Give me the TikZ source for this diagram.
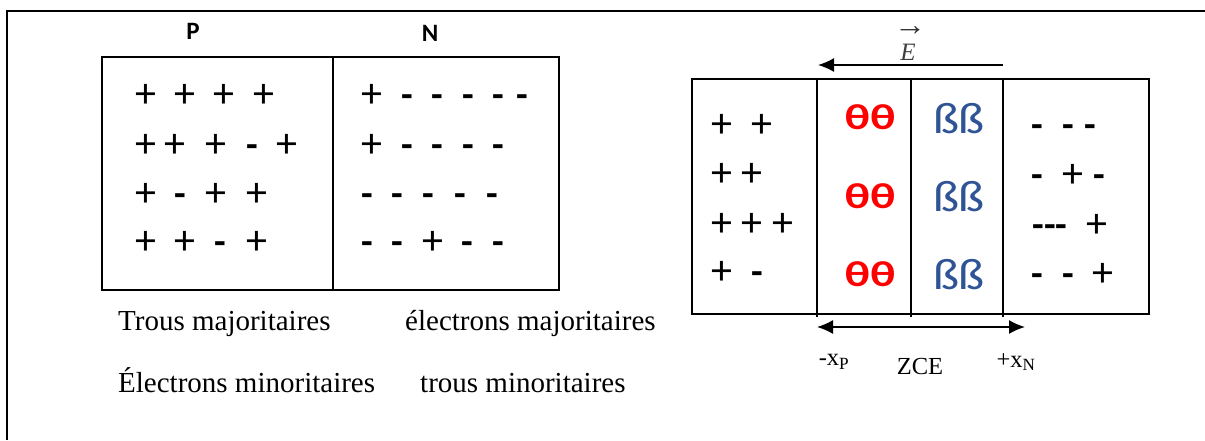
\documentclass[tikz,border=0pt]{standalone}
\usepackage{fontspec}
\usepackage{graphicx}
\setmainfont{Liberation Serif}
\newfontfamily\calfont{Carlito}
\usetikzlibrary{arrows.meta}
\definecolor{bblue}{HTML}{2F5496}
\newcommand\symrow[3]{\foreach \x/\s [count=\i] in {#3} {\node (#1-\i) at (\x,#2) [\s];}}
\begin{document}
\begin{tikzpicture}[x=1pt,y=-1pt,
  pls/.style={font=\calfont\fontsize{42}{42}\selectfont, inner sep=0, anchor=base, node contents={+}},
  mns/.style={font=\calfont\bfseries\fontsize{38}{38}\selectfont, inner sep=0, anchor=base, node contents={-}},
  mns3/.style={font=\calfont\bfseries\fontsize{38}{38}\selectfont, inner sep=0, anchor=base, node contents={{-}{-}{-}}},
  lbl/.style={font=\calfont\bfseries\fontsize{25}{25}\selectfont, inner sep=0},
  theta/.style={font=\calfont\bfseries\fontsize{36}{36}\selectfont, text=red, inner sep=0},
  beta/.style={font=\calfont\fontsize{44}{44}\selectfont, text=bblue, inner sep=0},
  captxt/.style={font=\fontsize{29}{29}\selectfont, inner sep=0, anchor=base west},
  small/.style={font=\fontsize{24.5}{24.5}\selectfont, inner sep=0},
  arr/.style={line width=1.6, -{Latex[length=16,width=14]}},
  darr/.style={line width=1.6, {Latex[length=16,width=14]}-{Latex[length=16,width=14]}}
]
\useasboundingbox (0,0) rectangle (1205,440);
% outer frame
\draw[line width=2] (7,440) -- (7,11) -- (1205,11);
% left box
\draw[line width=2.2] (102,57) rectangle (559,290);
\draw[line width=1.2] (333,57) -- (333,290);
\node[lbl] (P) at (193,31) {P};
\node[lbl] (N) at (430,33) {N};
% P side
\symrow{pa}{107}{146/pls,185/pls,224/pls,264/pls}
\symrow{pb}{157}{146/pls,175/pls,216/pls,252/mns,287/pls}
\symrow{pc}{206}{146/pls,180/mns,216/pls,257/pls}
\symrow{pd}{254}{146/pls,185/pls,220/mns,257/pls}
% N side
\symrow{na}{107}{372/pls,407/mns,437/mns,468/mns,498/mns,522/mns}
\symrow{nb}{157}{372/pls,407/mns,437/mns,468/mns,498/mns}
\symrow{nc}{206}{367/mns,397/mns,428/mns,460/mns,492/mns}
\symrow{nd}{254}{367/mns,397/mns,433/pls,467/mns,498/mns}
% captions
\node[captxt] (t1) at (118,330) {Trous majoritaires};
\node[captxt] (t2) at (405,330) {électrons majoritaires};
\node[captxt] (t3) at (118,392) {Électrons minoritaires};
\node[captxt] (t4) at (420,392) {trous minoritaires};
% right box
\draw[line width=1.6] (692,79) rectangle (1149,314);
\draw[line width=1.2] (817,79) -- (817,317);
\draw[line width=1.2] (911,79) -- (911,317);
\draw[line width=1.2] (1003,79) -- (1003,317);
\symrow{ra}{137}{722/pls,762/pls}
\symrow{rb}{186}{722/pls,752/pls}
\symrow{rc}{236}{722/pls,752/pls,783/pls}
\symrow{rd}{284}{722/pls,757/mns}
\symrow{sa}{137}{1037/mns,1068/mns,1090/mns}
\symrow{sb}{187}{1037/mns,1073/pls,1099/mns}
\symrow{sc}{237}{1050/mns3,1097/pls}
\symrow{sd}{286}{1037/mns,1068/mns,1103/pls}
\node[theta] (th1) at (870,117) {\scalebox{1.3}[1]{θθ}};
\node[theta] (th2) at (870,196) {\scalebox{1.3}[1]{θθ}};
\node[theta] (th3) at (870,274) {\scalebox{1.3}[1]{θθ}};
\node[beta] (b1) at (959,119) {\scalebox{1.12}[1]{ßß}};
\node[beta] (b2) at (959,197) {\scalebox{1.12}[1]{ßß}};
\node[beta] (b3) at (959,275) {\scalebox{1.12}[1]{ßß}};
% field
\coordinate (Es) at (1003,65);
\coordinate (Ee) at (818,65);
\draw[arr] (Es) -- (Ee);
\node[font=\fontsize{32}{32}\selectfont, inner sep=0, text=black!80] (Earr) at (910,31) {→};
\node[font=\fontsize{25}{25}\selectfont\itshape, inner sep=0, text=black!75] (E) at (908,52) {E};
% ZCE
\coordinate (Za) at (817,327);
\coordinate (Zb) at (1025,327);
\draw[darr] (Za) -- (Zb);
\node[small] (xp) at (834,362) {-x\textsubscript{P}};
\node[small] (zce) at (920,367) {ZCE};
\node[small] (xn) at (1016,362) {+x\textsubscript{N}};
\end{tikzpicture}
\end{document}
